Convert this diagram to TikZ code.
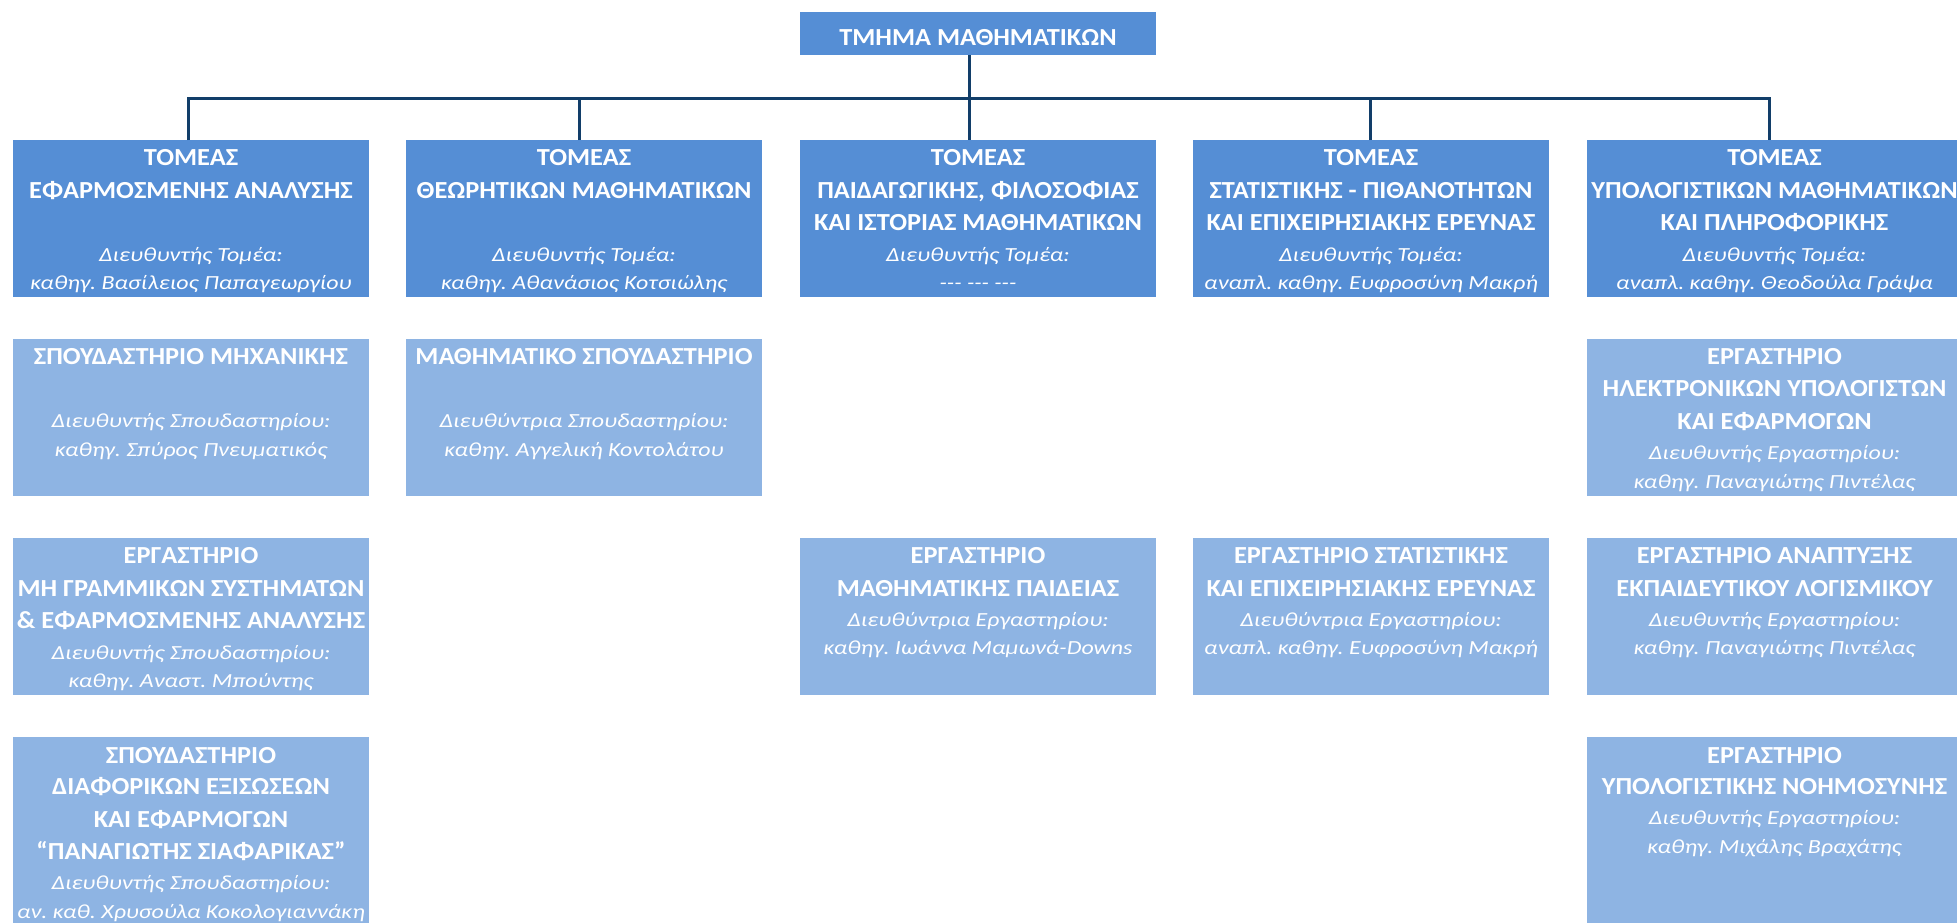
\documentclass[tikz,border=0pt]{standalone}
\usepackage{fontspec}
\usepackage{graphicx}
\setmainfont{Carlito}
\frenchspacing
\definecolor{sectorblue}{RGB}{85,142,213}
\definecolor{labblue}{RGB}{142,180,227}
\definecolor{linknavy}{RGB}{18,62,105}
\newcommand\HB{\fontsize{24.5}{24.5}\selectfont\bfseries}
\newcommand\IT{\fontsize{20}{20}\selectfont\itshape}
\newcommand\BX{1}
\newcommand\IX{1}
% a heading line / an italic line, baseline #1 below the top of the box
\newcommand\BL[2]{\vbox to 0pt{\kern#1pt\hbox to\hsize{\hss\smash{\scalebox{\BX}[1]{\HB #2}}\hss}\vss}}
\newcommand\IL[2]{\vbox to 0pt{\kern#1pt\hbox to\hsize{\hss\smash{\scalebox{\IX}[1]{\IT #2}}\hss}\vss}}
% name, style, x, y, width, height, lines
\newcommand\OrgBox[7]{%
  \node[#2] (#1) at (#3,#4) {\vbox to #6pt{\hsize=#5pt\offinterlineskip #7\vss}};}
\newsavebox\widthprobe
\tikzset{
  unit/.style={anchor=north west, inner sep=0pt, outer sep=0pt, text=white},
  sector/.style={unit, fill=sectorblue},
  lab/.style={unit, fill=labblue},
  conn/.style={draw=linknavy, line width=3pt},
}
\begin{document}
\frenchspacing
% set the letter width of headings and italic lines from a few set widths
\sbox\widthprobe{\HB ΗΛΕΚΤΡΟΝΙΚΩΝ ΥΠΟΛΟΓΙΣΤΩΝΥΠΟΛΟΓΙΣΤΙΚΗΣ ΝΟΗΜΟΣΥΝΗΣΤΜΗΜΑ ΜΑΘΗΜΑΤΙΚΩΝΚΑΙ ΠΛΗΡΟΦΟΡΙΚΗΣ}%
\pgfmathsetmacro\BX{1194.1/\wd\widthprobe}%
\sbox\widthprobe{\IT Διευθυντής Εργαστηρίου:καθηγ. Παναγιώτης ΠιντέλαςΔιευθυντής Τομέα:αναπλ. καθηγ. Θεοδούλα Γράψα}%
\pgfmathsetmacro\IX{1033.1/\wd\widthprobe}%
\begin{tikzpicture}[x=1pt, y=-1pt]
\useasboundingbox (0,0) rectangle (1957,922);
\fill[white] (0,0) rectangle (1957,922);
\clip (0,0) rectangle (1957,922);

% department
\OrgBox{dept}{sector}{800}{12}{356}{43}{\BL{33}{ΤΜΗΜΑ ΜΑΘΗΜΑΤΙΚΩΝ}}

% sectors
\OrgBox{s1}{sector}{13}{140}{356}{157}{%
  \BL{25.5}{ΤΟΜΕΑΣ}\BL{58}{ΕΦΑΡΜΟΣΜΕΝΗΣ ΑΝΑΛΥΣΗΣ}%
  \IL{121}{Διευθυντής Τομέα:}\IL{149.5}{καθηγ. Βασίλειος Παπαγεωργίου}}
\OrgBox{s2}{sector}{406}{140}{356}{157}{%
  \BL{25.5}{ΤΟΜΕΑΣ}\BL{58}{ΘΕΩΡΗΤΙΚΩΝ ΜΑΘΗΜΑΤΙΚΩΝ}%
  \IL{121}{Διευθυντής Τομέα:}\IL{149.5}{καθηγ. Αθανάσιος Κοτσιώλης}}
\OrgBox{s3}{sector}{800}{140}{356}{157}{%
  \BL{25.5}{ΤΟΜΕΑΣ}\BL{58}{ΠΑΙΔΑΓΩΓΙΚΗΣ, ΦΙΛΟΣΟΦΙΑΣ}\BL{90.5}{ΚΑΙ ΙΣΤΟΡΙΑΣ ΜΑΘΗΜΑΤΙΚΩΝ}%
  \IL{121}{Διευθυντής Τομέα:}\IL{149.5}{-{}-{}- -{}-{}- -{}-{}-}}
\OrgBox{s4}{sector}{1193}{140}{356}{157}{%
  \BL{25.5}{ΤΟΜΕΑΣ}\BL{58}{ΣΤΑΤΙΣΤΙΚΗΣ - ΠΙΘΑΝΟΤΗΤΩΝ}\BL{90.5}{ΚΑΙ ΕΠΙΧΕΙΡΗΣΙΑΚΗΣ ΕΡΕΥΝΑΣ}%
  \IL{121}{Διευθυντής Τομέα:}\IL{149.5}{αναπλ. καθηγ. Ευφροσύνη Μακρή}}
\OrgBox{s5}{sector}{1587}{140}{375}{157}{%
  \BL{25.5}{ΤΟΜΕΑΣ}\BL{58}{ΥΠΟΛΟΓΙΣΤΙΚΩΝ ΜΑΘΗΜΑΤΙΚΩΝ}\BL{90.5}{ΚΑΙ ΠΛΗΡΟΦΟΡΙΚΗΣ}%
  \IL{121}{Διευθυντής Τομέα:}\IL{149.5}{αναπλ. καθηγ. Θεοδούλα Γράψα}}

% laboratories, first row
\OrgBox{mech}{lab}{13}{339}{356}{157}{%
  \BL{25}{ΣΠΟΥΔΑΣΤΗΡΙΟ ΜΗΧΑΝΙΚΗΣ}%
  \IL{88.5}{Διευθυντής Σπουδαστηρίου:}\IL{117}{καθηγ. Σπύρος Πνευματικός}}
\OrgBox{mathsem}{lab}{406}{339}{356}{157}{%
  \BL{25}{ΜΑΘΗΜΑΤΙΚΟ ΣΠΟΥΔΑΣΤΗΡΙΟ}%
  \IL{88.5}{Διευθύντρια Σπουδαστηρίου:}\IL{117}{καθηγ. Αγγελική Κοντολάτου}}
\OrgBox{comp}{lab}{1587}{339}{375}{157}{%
  \BL{25}{ΕΡΓΑΣΤΗΡΙΟ}\BL{57.5}{ΗΛΕΚΤΡΟΝΙΚΩΝ ΥΠΟΛΟΓΙΣΤΩΝ}\BL{90}{ΚΑΙ ΕΦΑΡΜΟΓΩΝ}%
  \IL{120.5}{Διευθυντής Εργαστηρίου:}\IL{149}{καθηγ. Παναγιώτης Πιντέλας}}

% laboratories, second row
\OrgBox{nonlin}{lab}{13}{538}{356}{157}{%
  \BL{25.5}{ΕΡΓΑΣΤΗΡΙΟ}\BL{58}{ΜΗ ΓΡΑΜΜΙΚΩΝ ΣΥΣΤΗΜΑΤΩΝ}\BL{90.5}{\& ΕΦΑΡΜΟΣΜΕΝΗΣ ΑΝΑΛΥΣΗΣ}%
  \IL{121}{Διευθυντής Σπουδαστηρίου:}\IL{149.5}{καθηγ. Αναστ. Μπούντης}}
\OrgBox{educ}{lab}{800}{538}{356}{157}{%
  \BL{25.5}{ΕΡΓΑΣΤΗΡΙΟ}\BL{58}{ΜΑΘΗΜΑΤΙΚΗΣ ΠΑΙΔΕΙΑΣ}%
  \IL{88.5}{Διευθύντρια Εργαστηρίου:}\IL{116.5}{καθηγ. Ιωάννα Μαμωνά-Downs}}
\OrgBox{stat}{lab}{1193}{538}{356}{157}{%
  \BL{25.5}{ΕΡΓΑΣΤΗΡΙΟ ΣΤΑΤΙΣΤΙΚΗΣ}\BL{58}{ΚΑΙ ΕΠΙΧΕΙΡΗΣΙΑΚΗΣ ΕΡΕΥΝΑΣ}%
  \IL{88.5}{Διευθύντρια Εργαστηρίου:}\IL{116.5}{αναπλ. καθηγ. Ευφροσύνη Μακρή}}
\OrgBox{soft}{lab}{1587}{538}{375}{157}{%
  \BL{25.5}{ΕΡΓΑΣΤΗΡΙΟ ΑΝΑΠΤΥΞΗΣ}\BL{58}{ΕΚΠΑΙΔΕΥΤΙΚΟΥ ΛΟΓΙΣΜΙΚΟΥ}%
  \IL{88.5}{Διευθυντής Εργαστηρίου:}\IL{116.5}{καθηγ. Παναγιώτης Πιντέλας}}

% laboratories, third row
\OrgBox{diffeq}{lab}{13}{737}{356}{200}{%
  \BL{26}{ΣΠΟΥΔΑΣΤΗΡΙΟ}\BL{57.5}{ΔΙΑΦΟΡΙΚΩΝ ΕΞΙΣΩΣΕΩΝ}\BL{90.5}{ΚΑΙ ΕΦΑΡΜΟΓΩΝ}%
  \BL{122.5}{“ΠΑΝΑΓΙΩΤΗΣ ΣΙΑΦΑΡΙΚΑΣ”}%
  \IL{152.5}{Διευθυντής Σπουδαστηρίου:}\IL{181}{αν. καθ. Χρυσούλα Κοκολογιαννάκη}}
\OrgBox{ci}{lab}{1587}{737}{375}{200}{%
  \BL{26}{ΕΡΓΑΣΤΗΡΙΟ}\BL{57.5}{ΥΠΟΛΟΓΙΣΤΙΚΗΣ ΝΟΗΜΟΣΥΝΗΣ}%
  \IL{87.5}{Διευθυντής Εργαστηρίου:}\IL{116.5}{καθηγ. Μιχάλης Βραχάτης}}

% connectors
\draw[conn] ([xshift=-3pt]s1.north) -- ++(0,-42) -| ([xshift=-5pt]s5.north);
\draw[conn] ([xshift=-9pt]dept.south) -- ([xshift=-9pt]s3.north);
\draw[conn] ([xshift=-5pt]s2.north) -- ++(0,-42);
\draw[conn] ([xshift=-1pt]s4.north) -- ++(0,-42);
\end{tikzpicture}
\end{document}
